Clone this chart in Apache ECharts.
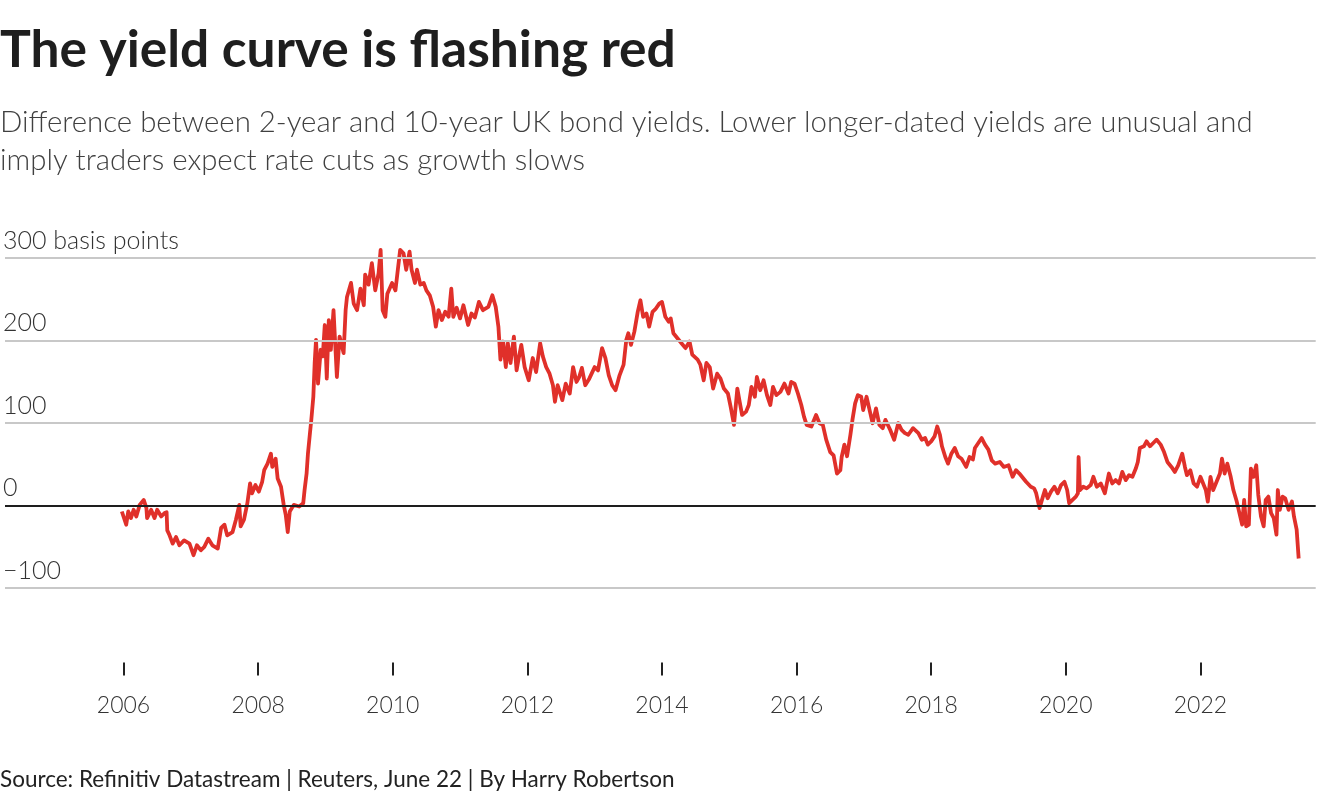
<!DOCTYPE html>
<html>
<head>
<meta charset="utf-8">
<script src="https://cdn.jsdelivr.net/npm/echarts@6/dist/echarts.min.js"></script>
<style>
html,body{margin:0;padding:0;background:#fff;}
#chart{width:1320px;height:800px;}
</style>
</head>
<body>
<div id="chart"></div>
<script>
// Decimal years of each reading
const years = [
2005.975,2006.04,2006.07,2006.11,2006.15,2006.19,2006.24,2006.30,2006.34,2006.35,2006.41,2006.46,2006.50,2006.56,2006.61,2006.64,2006.65,2006.68,2006.73,2006.78,2006.83,2006.90,2006.98,
2007.04,2007.09,2007.15,2007.20,2007.26,2007.32,2007.40,2007.45,2007.50,2007.54,2007.62,2007.67,2007.72,2007.74,2007.79,2007.84,2007.88,2007.91,2007.96,
2008.01,2008.06,2008.09,2008.14,2008.19,2008.21,2008.26,2008.29,2008.34,2008.38,2008.41,2008.44,2008.47,2008.53,2008.61,2008.67,2008.69,2008.72,2008.74,2008.77,2008.79,2008.82,2008.84,2008.86,2008.89,2008.93,2008.96,2008.99,
2009.02,2009.05,2009.08,2009.12,2009.17,2009.21,2009.27,2009.30,2009.32,2009.38,2009.42,2009.47,2009.52,2009.57,2009.59,2009.64,2009.69,2009.74,2009.79,2009.82,2009.85,2009.89,2009.92,2009.99,
2010.04,2010.07,2010.11,2010.16,2010.20,2010.25,2010.28,2010.33,2010.36,2010.41,2010.46,2010.50,2010.55,2010.60,2010.64,2010.68,2010.73,2010.78,2010.83,2010.87,2010.90,2010.95,2011.00,
2011.05,2011.12,2011.17,2011.22,2011.28,2011.34,2011.42,2011.48,2011.53,2011.57,2011.60,2011.64,2011.68,2011.71,2011.75,2011.80,2011.84,2011.87,2011.91,2011.96,
2012.02,2012.08,2012.13,2012.19,2012.23,2012.28,2012.33,2012.38,2012.41,2012.45,2012.52,2012.57,2012.63,2012.68,2012.73,2012.77,2012.81,2012.86,2012.92,
2013.00,2013.05,2013.11,2013.16,2013.21,2013.26,2013.31,2013.37,2013.43,2013.47,2013.50,2013.54,2013.59,2013.64,2013.68,2013.72,2013.77,2013.81,2013.86,2013.91,2013.96,
2014.00,2014.05,2014.10,2014.13,2014.17,2014.23,2014.29,2014.35,2014.41,2014.45,2014.53,2014.57,2014.62,2014.66,2014.71,2014.76,2014.82,2014.87,2014.92,2014.98,
2015.02,2015.07,2015.12,2015.15,2015.19,2015.25,2015.29,2015.33,2015.38,2015.41,2015.46,2015.51,2015.56,2015.61,2015.65,2015.70,2015.76,2015.82,2015.88,2015.92,2015.97,
2016.02,2016.07,2016.11,2016.15,2016.22,2016.29,2016.34,2016.39,2016.44,2016.50,2016.55,2016.60,2016.65,2016.67,2016.71,2016.75,2016.80,2016.83,2016.87,2016.91,2016.96,2016.99,
2017.04,2017.09,2017.13,2017.18,2017.23,2017.28,2017.32,2017.39,2017.45,2017.51,2017.56,2017.61,2017.66,2017.73,2017.81,2017.86,2017.91,2017.95,
2018.00,2018.05,2018.09,2018.13,2018.16,2018.21,2018.25,2018.30,2018.35,2018.40,2018.45,2018.52,2018.57,2018.62,2018.65,2018.70,2018.75,2018.80,2018.85,2018.90,2018.95,
2019.02,2019.08,2019.15,2019.21,2019.26,2019.31,2019.41,2019.48,2019.53,2019.56,2019.61,2019.66,2019.69,2019.73,2019.78,2019.83,2019.88,2019.93,2019.98,
2020.02,2020.05,2020.10,2020.15,2020.18,2020.19,2020.21,2020.26,2020.31,2020.37,2020.41,2020.46,2020.52,2020.58,2020.64,2020.69,2020.74,2020.79,2020.84,2020.89,2020.94,2020.99,
2021.04,2021.07,2021.10,2021.16,2021.20,2021.25,2021.30,2021.35,2021.41,2021.46,2021.51,2021.57,2021.62,2021.67,2021.73,2021.77,2021.80,2021.85,2021.90,2021.95,
2022.00,2022.08,2022.11,2022.15,2022.19,2022.24,2022.29,2022.32,2022.36,2022.40,2022.45,2022.49,2022.54,2022.62,2022.65,2022.68,2022.72,2022.75,2022.79,2022.83,2022.86,2022.90,2022.94,2022.97,
2023.01,2023.05,2023.09,2023.13,2023.15,2023.18,2023.22,2023.26,2023.31,2023.36,2023.39,2023.43,2023.46
];
// 10-year minus 2-year UK gilt yield spread, basis points
const spreadBp = [
-7,-23,-7,-15,-5,-13,1,7,-3,-15,-5,-15,-5,-13,-9,-8,-30,-35,-46,-38,-48,-42,-46,
-60,-48,-54,-50,-40,-48,-52,-27,-23,-36,-32,-17,1,-25,-17,3,27,15,25,
17,29,43,51,63,47,57,33,23,1,-11,-32,-7,1,-1,3,19,39,63,88,104,132,173,201,148,189,181,219,
154,225,189,237,156,205,185,237,253,270,245,237,263,243,280,268,294,261,282,310,237,229,257,270,
261,282,310,306,286,308,286,270,286,268,270,261,255,241,217,237,225,235,229,263,229,240,227,
243,219,233,228,247,237,241,255,241,217,177,199,168,197,173,205,164,178,195,168,
152,179,162,197,181,168,160,146,126,146,128,148,136,168,150,156,167,146,154,
168,164,191,179,158,146,140,158,171,201,209,195,211,235,249,229,233,217,235,239,245,
247,229,223,227,209,203,197,191,199,183,177,171,152,173,168,142,160,154,142,136,
120,98,142,128,110,114,122,144,132,156,140,152,134,122,144,134,138,148,136,150,148,
136,122,108,98,96,110,100,98,80,65,61,39,43,59,74,60,86,104,124,134,132,116,
132,114,100,118,98,94,104,92,80,100,92,88,86,94,88,80,82,74,
78,84,96,86,72,59,51,63,70,60,57,47,59,56,70,76,82,74,68,55,51,
53,47,49,35,43,39,29,23,21,15,-3,11,19,9,17,23,15,25,29,
19,3,7,11,15,59,19,23,21,25,35,23,27,15,39,27,31,27,41,31,37,35,
45,53,70,72,78,72,76,80,74,65,53,47,41,49,63,47,37,43,27,23,
35,19,5,35,19,29,39,57,39,51,35,19,5,-23,7,-25,-23,45,35,49,13,-13,-25,7,
11,-9,-15,-35,19,-5,11,9,-5,5,-13,-29,-64
];
const xTickYears = [2006, 2008, 2010, 2012, 2014, 2016, 2018, 2020, 2022];
const yTickValues = [-100, 0, 100, 200, 300];
const gridValues = [-100, 100, 200, 300];

const titleText = 'The yield curve is flashing red';
const subtitleText = 'Difference between 2-year and 10-year UK bond yields. Lower longer-dated yields are unusual and\nimply traders expect rate cuts as growth slows';
const sourceText = 'Source: Refinitiv Datastream | Reuters, June 22 | By Harry Robertson';

const seriesData = years.map((y, i) => [y, spreadBp[i]]);

const chart = echarts.init(document.getElementById('chart'), null, {renderer: 'canvas'});
const FONT = 'Lato';
chart.setOption({
  animation: false,
  backgroundColor: '#ffffff',
  title: [
    {
      text: titleText, left: 0, top: 20, padding: 0,
      textStyle: {fontFamily: FONT, fontWeight: 'bold', fontSize: 51.5, color: '#1e1e1e', lineHeight: 60}
    },
    {
      text: subtitleText, left: 0, top: 104, padding: 0,
      textStyle: {fontFamily: FONT, fontWeight: 300, fontSize: 29.4, color: '#404040', lineHeight: 38}
    },
    {
      text: sourceText, left: 0, top: 766, padding: 0,
      textStyle: {fontFamily: FONT, fontWeight: 'normal', fontSize: 22.5, color: '#222', lineHeight: 28}
    }
  ],
  grid: {left: 0, right: 4.3, top: 241.7, bottom: 137.55, containLabel: false},
  xAxis: {
    type: 'value', min: 2004.239, max: 2023.713,
    axisLine: {show: false, onZero: false},
    splitLine: {show: false},
    axisTick: {show: true, length: 13, customValues: xTickYears, lineStyle: {color: '#222', width: 2}},
    axisLabel: {
      customValues: xTickYears, margin: 32,
      fontFamily: FONT, fontSize: 23, color: '#333', fontWeight: 300,
      formatter: v => String(Math.round(v))
    }
  },
  yAxis: {
    type: 'value', min: -190, max: 320,
    axisLine: {show: false},
    axisTick: {show: false},
    splitLine: {show: false},
    axisLabel: {
      customValues: yTickValues, inside: true, margin: -2,
      align: 'left', verticalAlign: 'bottom', padding: [0, 0, 5, 0],
      fontFamily: FONT, fontSize: 25, color: '#333', fontWeight: 300,
      formatter: v => v === 300 ? '300 basis points' : (v < 0 ? '\u2212' + Math.abs(v) : String(v))
    }
  },
  series: [
    {
      type: 'line', data: [], z: 1, silent: true,
      markLine: {
        silent: true, symbol: 'none', animation: false,
        label: {show: false},
        data: gridValues.map(v => ({yAxis: v, lineStyle: {color: '#c8c8c8', width: 2, type: 'solid'}}))
          .concat([{yAxis: 0, lineStyle: {color: '#1e1e1e', width: 2, type: 'solid'}}])
      }
    },
    {
      type: 'line', data: seriesData, z: 3,
      showSymbol: false, symbol: 'none',
      lineStyle: {color: '#e0302a', width: 3.8, join: 'round'},
      clip: false
    }
  ]
});
</script>
</body>
</html>
